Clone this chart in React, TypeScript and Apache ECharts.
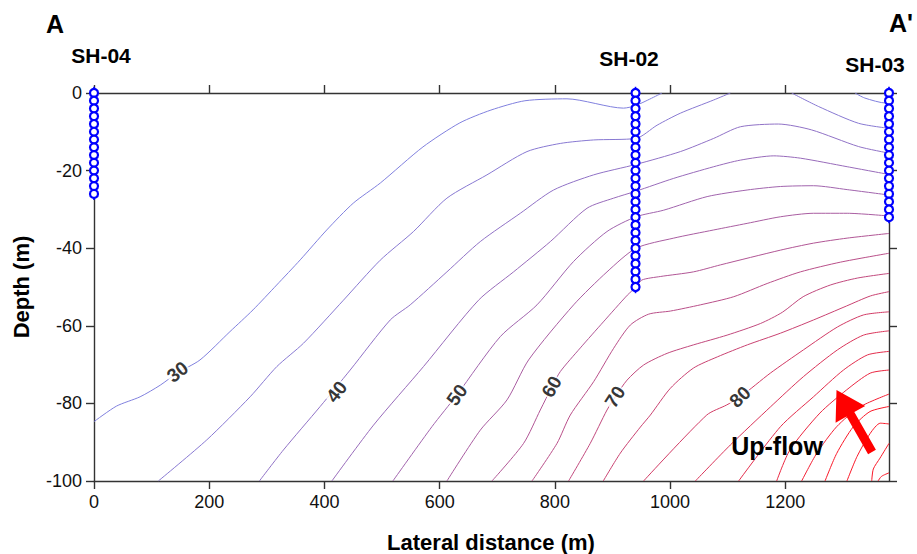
import React, { useEffect, useRef } from "react";
import * as echarts from "echarts";

// ---- contour lines (lateral distance m, depth m) ----
const c30a = [[0,-84.7],[39,-80.7],[80,-78.3],[115,-75.3],[144,-72.2],[184,-68.8],[236,-61.5],[276,-55.9],[317,-49.5],[358,-43],[404,-35.3],[450,-28.4],[497,-23.2],[571,-13.9],[635,-7.7],[689,-4.4],[748,-2],[821,-1.5],[919,-3.9],[941,-3.2],[986,0]];
const c30b = [[1321,0],[1338,-1.3],[1375,-2.6],[1380,-2.4]];
const c35a = [[111.7,-100],[195.8,-89.4],[271,-78.3],[317.4,-70.5],[363.6,-64.5],[433,-53.4],[496.8,-43.1],[554.6,-35.7],[612.6,-27.1],[682.1,-21.1],[751.6,-15.1],[809.4,-13],[867.3,-12.1],[940.9,-11.7],[977.4,-8.3],[1017.9,-5.2],[1075.7,-1.8],[1104.7,0]];
const c35b = [[1211,0],[1258,-3.5],[1327,-7.8],[1380,-9.1]];
const c40 = [[287.1,-100],[328.8,-92],[392.6,-80.8],[444.7,-71.4],[514.2,-58.5],[548.9,-54.6],[612.6,-46.1],[670.5,-38.3],[740,-31],[797.8,-25],[867.3,-21.1],[940.9,-18.4],[1017.9,-15.1],[1075.7,-11.7],[1122.1,-8.7],[1188,-8],[1245.4,-9.5],[1327.1,-13.8],[1380,-15.5]];
const c45 = [[412.9,-100],[485.2,-85.6],[572,-70.5],[667.5,-53.4],[728.3,-46.1],[792.1,-38.3],[855.8,-29.7],[902,-27.1],[940.9,-25.3],[1006.3,-22],[1075.7,-19],[1122.1,-17.3],[1180,-16.2],[1226.3,-16.8],[1307.4,-19],[1380,-21]];
const c50 = [[518.8,-100],[586.6,-86],[630,-77.8],[705.2,-62.8],[769,-54.6],[832.6,-43.4],[890.5,-35.7],[940.9,-31.9],[988.9,-30.2],[1064.3,-26.7],[1133.7,-25],[1191.6,-24.1],[1248.9,-23.9],[1307.4,-24.9],[1380,-26.3]];
const c55 = [[612.6,-100],[670.5,-86.9],[716.9,-79.1],[754.4,-68.8],[832.6,-54.6],[890.5,-46.1],[940.9,-40],[1006.3,-37.4],[1075.7,-35.3],[1133.7,-33.6],[1191.6,-31.9],[1248.9,-31],[1307.4,-31],[1380,-31.7]];
const c60 = [[690.8,-100],[745.7,-90.3],[774.7,-81.7],[795,-75.7],[809.4,-71.8],[844.2,-65.7],[884.1,-59],[925.8,-52.1],[940.9,-50],[951,-48.2],[983,-47.3],[1040.5,-46.1],[1087.4,-44.3],[1191.6,-40.5],[1248.9,-38.7],[1307.4,-37.4],[1380,-36.2]];
const c65 = [[760.3,-100],[803.7,-90.3],[826.8,-83],[867.3,-74.4],[902,-65.8],[931,-59.8],[962.8,-57],[1000.5,-56.2],[1052.6,-54.6],[1110.5,-52.5],[1168.5,-49.1],[1226.3,-46.1],[1295.6,-43.6],[1380,-41.3]];
const c70 = [[823.8,-100],[861.4,-90.3],[890.5,-81.7],[904.9,-78.3],[925.3,-74],[954.1,-70.1],[994.8,-67.1],[1041,-64.9],[1099,-62.4],[1157,-59.4],[1195,-56.5],[1231,-52.5],[1278,-49.5],[1325,-47.7],[1380,-46.5]];
const c75 = [[884,-100],[913.7,-92.8],[948.4,-86.1],[965.8,-83],[1000.5,-76.1],[1040.5,-70.9],[1082.2,-68],[1134.3,-64.9],[1191.6,-61.9],[1248.9,-58.5],[1306.2,-54.9],[1347.9,-52.3],[1380,-51.2]];
const c80 = [[954,-100],[1063.6,-83],[1098.3,-80.4],[1122,-78.3],[1174,-72.2],[1231.5,-66.2],[1290.6,-60.3],[1335.8,-57.2],[1380,-56.4]];
const c85 = [[1043.9,-100],[1104.7,-90.7],[1174.2,-80.9],[1231.5,-73.1],[1290.6,-66.2],[1335.8,-62.4],[1380,-61.3]];
const c90 = [[1119,-100],[1191.6,-86],[1248.9,-78.3],[1301,-71.4],[1342.7,-67.5],[1380,-66.6]];
const c95 = [[1185,-100],[1208,-92],[1260,-82.5],[1306.6,-76.5],[1347.4,-72.2],[1380,-71.4]];
const c100 = [[1228.4,-100],[1254.4,-92.9],[1289.2,-86],[1329.6,-80.9],[1380,-77.6]];
const c105 = [[1269,-100],[1289.2,-92.9],[1318.1,-86],[1347,-82.1],[1380,-80.8]];
const c110 = [[1307,-100],[1324.5,-93.7],[1347.5,-87.7],[1365,-85.1],[1380,-85.3]];
const c115 = [[1350,-100],[1352.8,-96.9],[1364.4,-94.1],[1380,-90.3]];
const c120 = [[1361,-100],[1367,-98.8],[1380,-97.9]];

const contourValues = [30, 30, 35, 35, 40, 45, 50, 55, 60, 65, 70, 75, 80, 85, 90, 95, 100, 105, 110, 115, 120];
const contourLines = [c30a, c30b, c35a, c35b, c40, c45, c50, c55, c60, c65, c70, c75, c80, c85, c90, c95, c100, c105, c110, c115, c120];

// contour labels: value, lateral distance, depth
const labelValues = [30, 40, 50, 60, 70, 80];
const labelX = [145, 421, 630, 794.5, 904.4, 1121.3];
const labelDepth = [-71.9, -77, -77.8, -75.7, -78.3, -78.3];
const labelAngles = [38, 52, 54, 60, 57, 44];

// boreholes
const boreholeNames = ["SH-04", "SH-02", "SH-03"];
const boreholeX = [0, 940, 1380];
const sh04Depths = [0, -2, -4, -6, -8, -10, -12, -14, -16, -18, -20, -22, -24, -26];
const sh02Depths = [0, -2, -4, -6, -8, -10, -12, -14, -16, -18, -20, -22, -24, -26, -28, -30, -32, -34, -36, -38, -40, -42, -44, -46, -48, -50];
const sh03Depths = [0, -2, -4, -6, -8, -10, -12, -14, -16, -18, -20, -22, -24, -26, -28, -30, -32];
const boreholeDepths = [sh04Depths, sh02Depths, sh03Depths];

const xTickValues = [0, 200, 400, 600, 800, 1000, 1200];
const yTickValues = [-100, -80, -60, -40, -20, 0];

const FONT = "'Liberation Sans', Arial, Helvetica, sans-serif";

function colorFor(v: number): string {
  const t = Math.max(0, Math.min(1, (v - 30) / 75));
  const r = Math.round(128 + (250 - 128) * t);
  const g = Math.round(128 + (24 - 128) * t);
  const b = Math.round(222 + (40 - 222) * t);
  return `rgb(${r},${g},${b})`;
}

export default function App() {
  const ref = useRef<HTMLDivElement>(null);
  useEffect(() => {
    if (!ref.current) return;
    const chart = echarts.init(ref.current, undefined, { renderer: "svg" });
    const axisLineStyle = { color: "#333", width: 1.4 };

    const series: any[] = [];
    contourLines.forEach((pts, i) => {
      series.push({
        type: "line",
        data: pts,
        xAxisIndex: 0,
        yAxisIndex: 0,
        symbol: "none",
        showSymbol: false,
        smooth: 0.25,
        silent: true,
        lineStyle: { color: colorFor(contourValues[i]), width: 1 },
        z: 2,
      });
    });

    series.push({
      type: "scatter",
      data: labelValues.map((v, i) => ({
        value: [labelX[i], labelDepth[i]],
        name: String(v),
        label: {
          show: true,
          position: "inside",
          formatter: String(v),
          rotate: labelAngles[i],
          fontFamily: FONT,
          fontSize: 19,
          fontWeight: "bold",
          color: "#000",
          backgroundColor: "#fff",
          padding: [0, 1, 0, 1],
        },
      })),
      symbolSize: 1,
      itemStyle: { color: "rgba(0,0,0,0)" },
      silent: true,
      z: 5,
    });

    boreholeX.forEach((x, i) => {
      const depths = boreholeDepths[i];
      const top = depths[0];
      const bottom = depths[depths.length - 1];
      series.push({
        type: "line",
        data: [[x, top + 1.6], [x, bottom - 1.6]],
        symbol: "none",
        clip: false,
        silent: true,
        lineStyle: { color: "#0000ff", width: 1.6 },
        z: 6,
      });
      series.push({
        type: "scatter",
        data: depths.map((d) => [x, d]),
        symbol: "circle",
        symbolSize: 8,
        clip: false,
        silent: true,
        itemStyle: { color: "#ffffff", borderColor: "#0000ff", borderWidth: 2.2, opacity: 1 },
        z: 7,
      });
    });

    const textStyle = (size: number) => ({
      font: `bold ${size}px ${FONT}`,
      fill: "#000",
      align: "center",
      verticalAlign: "middle",
      textAlign: "center",
      textVerticalAlign: "middle",
    });

    chart.setOption({
      animation: false,
      backgroundColor: "#fff",
      grid: { left: 94, top: 93, width: 795, height: 388, containLabel: false },
      xAxis: [
        {
          type: "value",
          position: "bottom",
          min: 0,
          max: 1380,
          interval: 200,
          axisLine: { show: true, onZero: false, lineStyle: axisLineStyle },
          axisTick: { show: true, inside: false, length: 8, lineStyle: axisLineStyle, customValues: xTickValues },
          axisLabel: {
            show: true,
            fontFamily: FONT,
            fontSize: 18,
            color: "#111",
            margin: 12,
            customValues: xTickValues,
            formatter: (v: number) => String(v),
          },
          splitLine: { show: false },
        },
        {
          type: "value",
          position: "top",
          min: 0,
          max: 1380,
          interval: 200,
          axisLine: { show: true, onZero: false, lineStyle: axisLineStyle },
          axisTick: { show: true, inside: false, length: 8, lineStyle: axisLineStyle, customValues: xTickValues },
          axisLabel: { show: false },
          splitLine: { show: false },
        },
      ],
      yAxis: [
        {
          type: "value",
          position: "left",
          min: -100,
          max: 0,
          interval: 20,
          axisLine: { show: true, onZero: false, lineStyle: axisLineStyle },
          axisTick: { show: true, inside: false, length: 8, lineStyle: axisLineStyle, customValues: yTickValues },
          axisLabel: {
            show: true,
            fontFamily: FONT,
            fontSize: 18,
            color: "#111",
            margin: 12,
            customValues: yTickValues,
            formatter: (v: number) => String(v),
          },
          splitLine: { show: false },
        },
        {
          type: "value",
          position: "right",
          min: -100,
          max: 0,
          interval: 20,
          axisLine: { show: true, onZero: false, lineStyle: axisLineStyle },
          axisTick: { show: true, inside: false, length: 8, lineStyle: axisLineStyle, customValues: yTickValues },
          axisLabel: { show: false },
          splitLine: { show: false },
        },
      ],
      series,
      graphic: [
        { type: "text", x: 55, y: 24, style: { text: "A", ...textStyle(25) } },
        { type: "text", x: 901, y: 23, style: { text: "A'", ...textStyle(25) } },
        { type: "text", x: 101, y: 55, style: { text: boreholeNames[0], ...textStyle(21) } },
        { type: "text", x: 629, y: 58, style: { text: boreholeNames[1], ...textStyle(21) } },
        { type: "text", x: 875, y: 64, style: { text: boreholeNames[2], ...textStyle(21) } },
        { type: "text", x: 491, y: 542, style: { text: "Lateral distance (m)", ...textStyle(22) } },
        { type: "text", x: 21, y: 287, rotation: Math.PI / 2, style: { text: "Depth (m)", ...textStyle(22) } },
        { type: "text", x: 777, y: 446, style: { text: "Up-flow", ...textStyle(25) }, z: 10 },
        {
          type: "polygon",
          z: 10,
          shape: {
            points: [
              [836.5, 390], [865.2, 405.9], [854.3, 412.1], [875.9, 449.8],
              [868.1, 454.2], [846.5, 416.5], [835.6, 422.7],
            ],
          },
          style: { fill: "#ff0000" },
        },
      ],
    });
    return () => chart.dispose();
  }, []);
  return (
    <div
      ref={ref}
      style={{ position: "fixed", left: 0, top: 0, width: 917, height: 554, background: "#fff" }}
    />
  );
}
